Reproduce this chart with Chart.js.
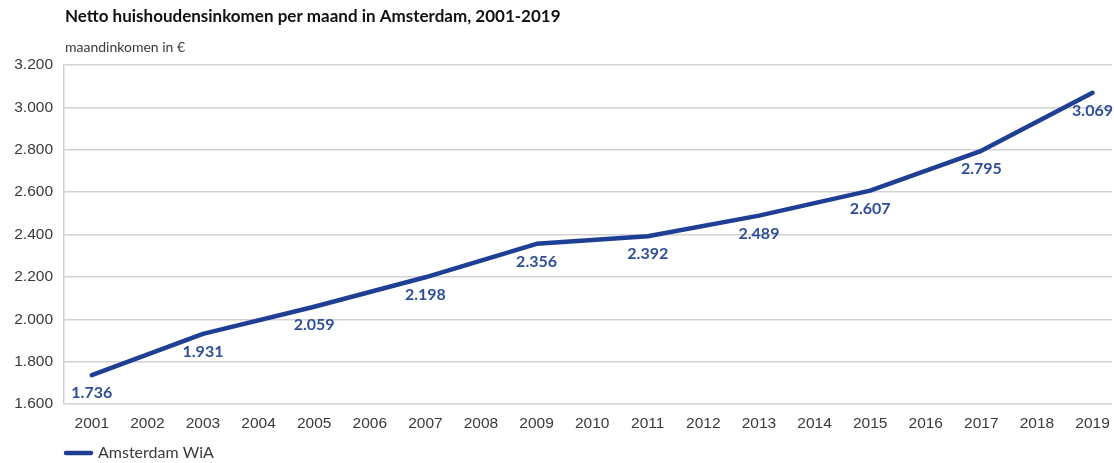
<!DOCTYPE html>
<html>
<head>
<meta charset="utf-8">
<script src="https://cdn.jsdelivr.net/npm/chart.js@4"></script>
<style>
  html, body { margin: 0; padding: 0; background: #fff; }
  #wrap { width: 1114px; height: 463px; position: relative; }
</style>
</head>
<body>
<div id="wrap"><canvas id="inkomen-chart"></canvas></div>
<script>
const titleText = 'Netto huishoudensinkomen per maand in Amsterdam, 2001-2019';
const yAxisTitle = 'maandinkomen in €';
const seriesName = 'Amsterdam WiA';
const tickYears = [2001, 2002, 2003, 2004, 2005, 2006, 2007, 2008, 2009, 2010,
    2011, 2012, 2013, 2014, 2015, 2016, 2017, 2018, 2019];
const dataYears = [2001, 2003, 2005, 2007, 2009, 2011, 2013, 2015, 2017, 2019];
const inkomen = [1736, 1931, 2059, 2198, 2356, 2392, 2489, 2607, 2795, 3069];
const yTicks = [1600, 1800, 2000, 2200, 2400, 2600, 2800, 3000, 3200];

const lineColor = '#1f3f95';
const labelColor = '#2f4d9b';
const textColor = '#3a3a3a';

function formatNl(v) {
    return String(Math.round(v)).replace(/\B(?=(\d{3})+(?!\d))/g, '.');
}

// titels, datalabels en legenda zelf tekenen
const extrasPlugin = {
    id: 'extras',
    afterDatasetsDraw(chart) {
        const ctx = chart.ctx;
        const meta = chart.getDatasetMeta(0);
        ctx.save();
        ctx.font = 'bold 16px Lato, "Noto Sans", sans-serif';
        ctx.fillStyle = labelColor;
        ctx.textAlign = 'center';
        ctx.textBaseline = 'middle';
        meta.data.forEach((pt, i) => {
            ctx.fillText(formatNl(inkomen[i]), pt.x, pt.y + 18);
        });
        ctx.restore();
    },
    afterDraw(chart) {
        const ctx = chart.ctx;
        const left = chart.chartArea.left;
        ctx.save();
        ctx.textAlign = 'left';
        ctx.textBaseline = 'middle';
        ctx.fillStyle = '#111';
        ctx.font = 'bold 17px Lato, "Noto Sans", sans-serif';
        ctx.fillText(titleText, left + 1, 17);
        ctx.fillStyle = textColor;
        ctx.font = '14px Lato, "Noto Sans", sans-serif';
        ctx.fillText(yAxisTitle, left + 1, 47);

        // legenda
        ctx.strokeStyle = lineColor;
        ctx.lineWidth = 4.5;
        ctx.lineCap = 'round';
        ctx.beginPath();
        ctx.moveTo(left + 2, 453);
        ctx.lineTo(left + 27, 453);
        ctx.stroke();
        ctx.font = '16px Lato, "Noto Sans", sans-serif';
        ctx.fillText(seriesName, left + 34, 453);
        ctx.restore();
    }
};

const ctx = document.getElementById('inkomen-chart').getContext('2d');
const inkomenChart = new Chart(ctx, {
    type: 'line',
    data: {
        datasets: [{
            label: seriesName,
            data: dataYears.map((year, i) => ({ x: year, y: inkomen[i] })),
            borderColor: lineColor,
            backgroundColor: lineColor,
            borderWidth: 4.5,
            pointRadius: 0,
            tension: 0,
            borderCapStyle: 'round',
            borderJoinStyle: 'round'
        }]
    },
    options: {
        responsive: true,
        maintainAspectRatio: false,
        animation: false,
        layout: {
            padding: { top: 65, right: 2, bottom: 19, left: 0 }
        },
        plugins: {
            legend: { display: false },
            title: { display: false },
            tooltip: { enabled: false }
        },
        scales: {
            x: {
                type: 'linear',
                min: 2000.5,
                max: 2019.35,
                afterFit: scale => { scale.height = 40; },
                grid: { display: false },
                border: { display: false },
                afterBuildTicks: scale => {
                    scale.ticks = tickYears.map(v => ({ value: v }));
                },
                ticks: {
                    padding: 2,
                    color: textColor,
                    font: { family: '"Liberation Sans", Arial, sans-serif', size: 15.5 },
                    callback: value => String(value),
                    maxRotation: 0,
                    autoSkip: false
                }
            },
            y: {
                min: 1600,
                max: 3200,
                afterFit: scale => { scale.width = 64; },
                afterBuildTicks: scale => {
                    scale.ticks = yTicks.map(v => ({ value: v }));
                },
                grid: {
                    color: '#d2d2d2',
                    lineWidth: 1.5,
                    drawTicks: false
                },
                border: { display: true, color: '#cfcfcf', width: 1.5 },
                ticks: {
                    padding: 11,
                    color: textColor,
                    font: { family: '"Liberation Sans", Arial, sans-serif', size: 15.5 },
                    callback: value => formatNl(value)
                }
            }
        }
    },
    plugins: [extrasPlugin]
});
</script>
</body>
</html>
